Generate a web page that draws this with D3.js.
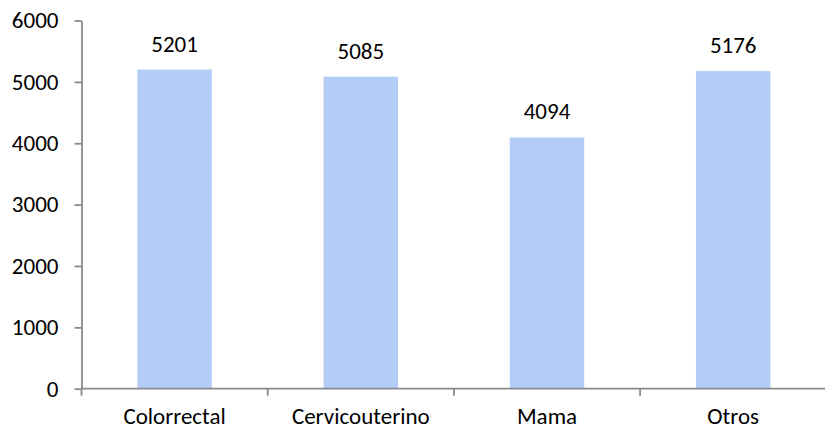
<!DOCTYPE html>
<html>
<head>
<meta charset="utf-8">
<script src="https://cdn.jsdelivr.net/npm/d3@7"></script>
<style>
  html, body { margin: 0; padding: 0; background: #fff; }
  svg { display: block; font-family: Carlito, Calibri, "Open Sans", sans-serif; }
</style>
</head>
<body>
<svg id="chart" width="825" height="429"></svg>
<script>
// Cases by cancer type
const categories = ["Colorrectal", "Cervicouterino", "Mama", "Otros"];
const values = [5201, 5085, 4094, 5176];
const yTicks = [0, 1000, 2000, 3000, 4000, 5000, 6000];

const svg = d3.select("#chart");
const plotLeft = 81.5, plotRight = 826.3, plotTop = 20.5, plotBottom = 388.7;
const fontSize = 23;
const axisColor = "#8a8a8a";

const x = d3.scaleBand().domain(categories).range([plotLeft, plotRight]).paddingInner(0.6).paddingOuter(0.3);
const y = d3.scaleLinear().domain([0, 6000]).range([plotBottom, plotTop]);

// Bars
svg.append("g").selectAll("rect").data(values).join("rect")
  .attr("x", (d, i) => x(categories[i]))
  .attr("width", x.bandwidth())
  .attr("y", d => y(d))
  .attr("height", d => y(0) - y(d))
  .attr("fill", "#b4cdf8");

// Value labels
svg.append("g").selectAll("text").data(values).join("text")
  .attr("x", (d, i) => x(categories[i]) + x.bandwidth() / 2)
  .attr("y", d => y(d) - 18)
  .attr("text-anchor", "middle")
  .attr("font-size", fontSize)
  .attr("fill", "#000")
  .text(d => d);

// Y axis
const yAxis = svg.append("g")
  .attr("transform", `translate(${plotLeft},0)`)
  .call(d3.axisLeft(y).tickValues(yTicks).tickSize(7).tickPadding(16).tickFormat(d3.format("d")).tickSizeOuter(0));
yAxis.attr("font-family", null).attr("font-size", null);
yAxis.select(".domain").attr("stroke", axisColor).attr("stroke-width", 1.8);
yAxis.selectAll(".tick line").attr("stroke", axisColor).attr("stroke-width", 1.8);
yAxis.selectAll(".tick text").attr("font-size", fontSize).attr("fill", "#000");

// X axis with boundary ticks between categories
const xAxis = svg.append("g").attr("transform", `translate(0,${plotBottom})`);
xAxis.append("line")
  .attr("x1", plotLeft).attr("x2", plotRight)
  .attr("stroke", axisColor).attr("stroke-width", 1.8);
const step = x.step();
const boundaries = d3.range(categories.length + 1).map(i => plotLeft + i * step);
xAxis.selectAll("line.tick").data(boundaries).join("line")
  .attr("class", "tick")
  .attr("x1", d => d).attr("x2", d => d)
  .attr("y1", 0).attr("y2", 7)
  .attr("stroke", axisColor).attr("stroke-width", 1.8);
xAxis.selectAll("text").data(categories).join("text")
  .attr("x", d => x(d) + x.bandwidth() / 2)
  .attr("y", 35)
  .attr("text-anchor", "middle")
  .attr("font-size", fontSize)
  .attr("fill", "#000")
  .text(d => d);
</script>
</body>
</html>
